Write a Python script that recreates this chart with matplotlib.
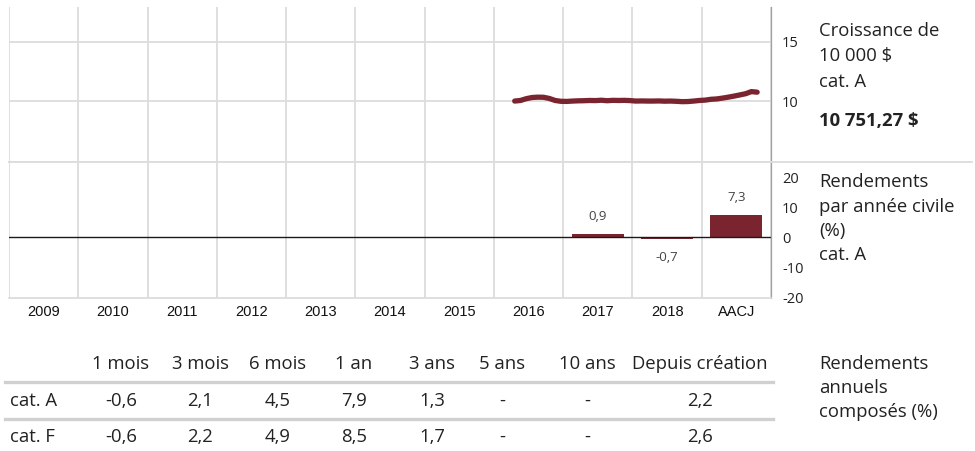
import numpy as np
import matplotlib
matplotlib.use("Agg")
import matplotlib.pyplot as plt
from matplotlib.lines import Line2D

plt.rcParams['axes.unicode_minus'] = False

# chart data
categories = ['2009', '2010', '2011', '2012', '2013', '2014', '2015', '2016', '2017', '2018', 'AACJ']
annual_returns = [np.nan] * 8 + [0.9, -0.7, 7.3]

# growth of 10 000 $ (thousands), monthly, starting late 2016
growth_start = 6.8
growth_values = [10.00, 10.05, 10.20, 10.30, 10.33, 10.32, 10.22, 10.05, 9.98, 9.97,
                 10.00, 10.02, 10.03, 10.05, 10.04, 10.07, 10.03, 10.06, 10.05, 10.06,
                 10.04, 10.00, 10.01, 10.00, 10.00, 10.01, 9.99, 10.00, 9.98, 9.95,
                 9.96, 10.00, 10.05, 10.08, 10.15, 10.18, 10.25, 10.33, 10.42, 10.52,
                 10.62, 10.80, 10.75]
final_value = 10751.27

periods = ['1 mois', '3 mois', '6 mois', '1 an', '3 ans', '5 ans', '10 ans', 'Depuis création']
row_labels = ['cat. A', 'cat. F']
cat_a = [-0.6, 2.1, 4.5, 7.9, 1.3, None, None, 2.2]
cat_f = [-0.6, 2.2, 4.9, 8.5, 1.7, None, None, 2.6]

RED = '#7a2430'
GRID = '#dcdcdc'
TXT = '#222222'
FONT = ['Open Sans', 'DejaVu Sans']
W, H = 975, 451


def fr(v):
    return '-' if v is None else f'{v:.1f}'.replace('.', ',')


def fx(px):
    return px / W


def fy(py):
    return 1 - py / H


fig = plt.figure(figsize=(9.75, 4.51), dpi=100)
ax1 = fig.add_axes([fx(9), fy(162), fx(771) - fx(9), fy(7) - fy(162)])
ax2 = fig.add_axes([fx(9), fy(298), fx(771) - fx(9), fy(162) - fy(298)])

x = np.arange(len(categories))
bounds = np.arange(len(categories) + 1) - 0.5

for ax in (ax1, ax2):
    ax.set_xlim(-0.5, len(categories) - 0.5)
    ax.set_xticks(bounds, minor=True)
    ax.grid(True, which='minor', axis='x', color=GRID, lw=1.3)
    ax.set_axisbelow(True)
    ax.yaxis.tick_right()
    ax.tick_params(axis='y', length=0, pad=8, labelsize=10.5, labelcolor=TXT)
    ax.tick_params(axis='x', which='both', length=0)
    for s in ('top', 'left'):
        ax.spines[s].set_visible(False)
    ax.spines['right'].set_color('#a0a0a0')
    ax.spines['right'].set_linewidth(0.9)
    ax.spines['bottom'].set_color(GRID)
    ax.spines['bottom'].set_linewidth(1.3)

# growth line
gx = growth_start + np.arange(len(growth_values)) / 12
ax1.plot(gx, growth_values, color=RED, lw=3.8, solid_capstyle='round', solid_joinstyle='round')
ax1.set_ylim(4.85, 17.95)
ax1.set_yticks([10, 15])
ax1.grid(True, which='major', axis='y', color=GRID, lw=1.3)
ax1.set_xticks(x)
ax1.set_xticklabels([])
for lab in ax1.get_yticklabels():
    lab.set_fontfamily(FONT)

# annual returns
ax2.bar(x, annual_returns, width=0.75, color=RED)
ax2.axhline(0, color='#1a1a1a', lw=1.0)
ax2.set_ylim(-20.3, 25)
ax2.set_yticks([-20, -10, 0, 10, 20])
ax2.set_xticks(x)
ax2.set_xticklabels(categories, fontfamily='Liberation Sans', fontsize=10.5, color='#111111')
ax2.tick_params(axis='x', pad=5)
for lab in ax2.get_yticklabels():
    lab.set_fontfamily(FONT)
for xi, v in zip(x, annual_returns):
    if np.isnan(v):
        continue
    off = 13 if v >= 0 else -13
    ax2.annotate(fr(v), (xi, v), xytext=(0, off), textcoords='offset points',
                 ha='center', va='center', fontsize=9.5, color='#444444', fontfamily=FONT)

# separator line extending into the side labels
fig.add_artist(Line2D([fx(9), fx(972)], [fy(162), fy(162)], color=GRID, lw=1.3))

# side labels
side = dict(fontsize=13.3, color=TXT, fontfamily=FONT, va='center', ha='left')
for txt, py in [('Croissance de', 31), ('10 000 $', 56), ('cat. A', 82)]:
    fig.text(fx(819), fy(py), txt, **side)
fig.text(fx(819), fy(121), f'{final_value:,.2f} $'.replace(',', ' ').replace('.', ','),
         fontweight='bold', **side)
for txt, py in [('Rendements', 182), ('par année civile', 207), ('(%)', 231), ('cat. A', 255)]:
    fig.text(fx(819), fy(py), txt, **side)
for txt, py in [('Rendements', 364), ('annuels', 388), ('composés (%)', 412)]:
    fig.text(fx(819), fy(py), txt, **side)

# returns table
col_x = [121, 200, 278, 354, 432, 502, 587, 700]
cell = dict(fontsize=13.3, color=TXT, fontfamily=FONT, va='center', ha='center')
for px, p in zip(col_x, periods):
    fig.text(fx(px), fy(364), p, **cell)
for py, name, row in [(401, row_labels[0], cat_a), (437, row_labels[1], cat_f)]:
    fig.text(fx(10), fy(py), name, **dict(cell, ha='left'))
    for px, v in zip(col_x, row):
        fig.text(fx(px), fy(py), fr(v), **cell)
for py in (382, 419):
    fig.add_artist(Line2D([fx(5), fx(773)], [fy(py), fy(py)], color='#d0d0d0', lw=2.4))

fig.savefig('out.png', dpi=100)
